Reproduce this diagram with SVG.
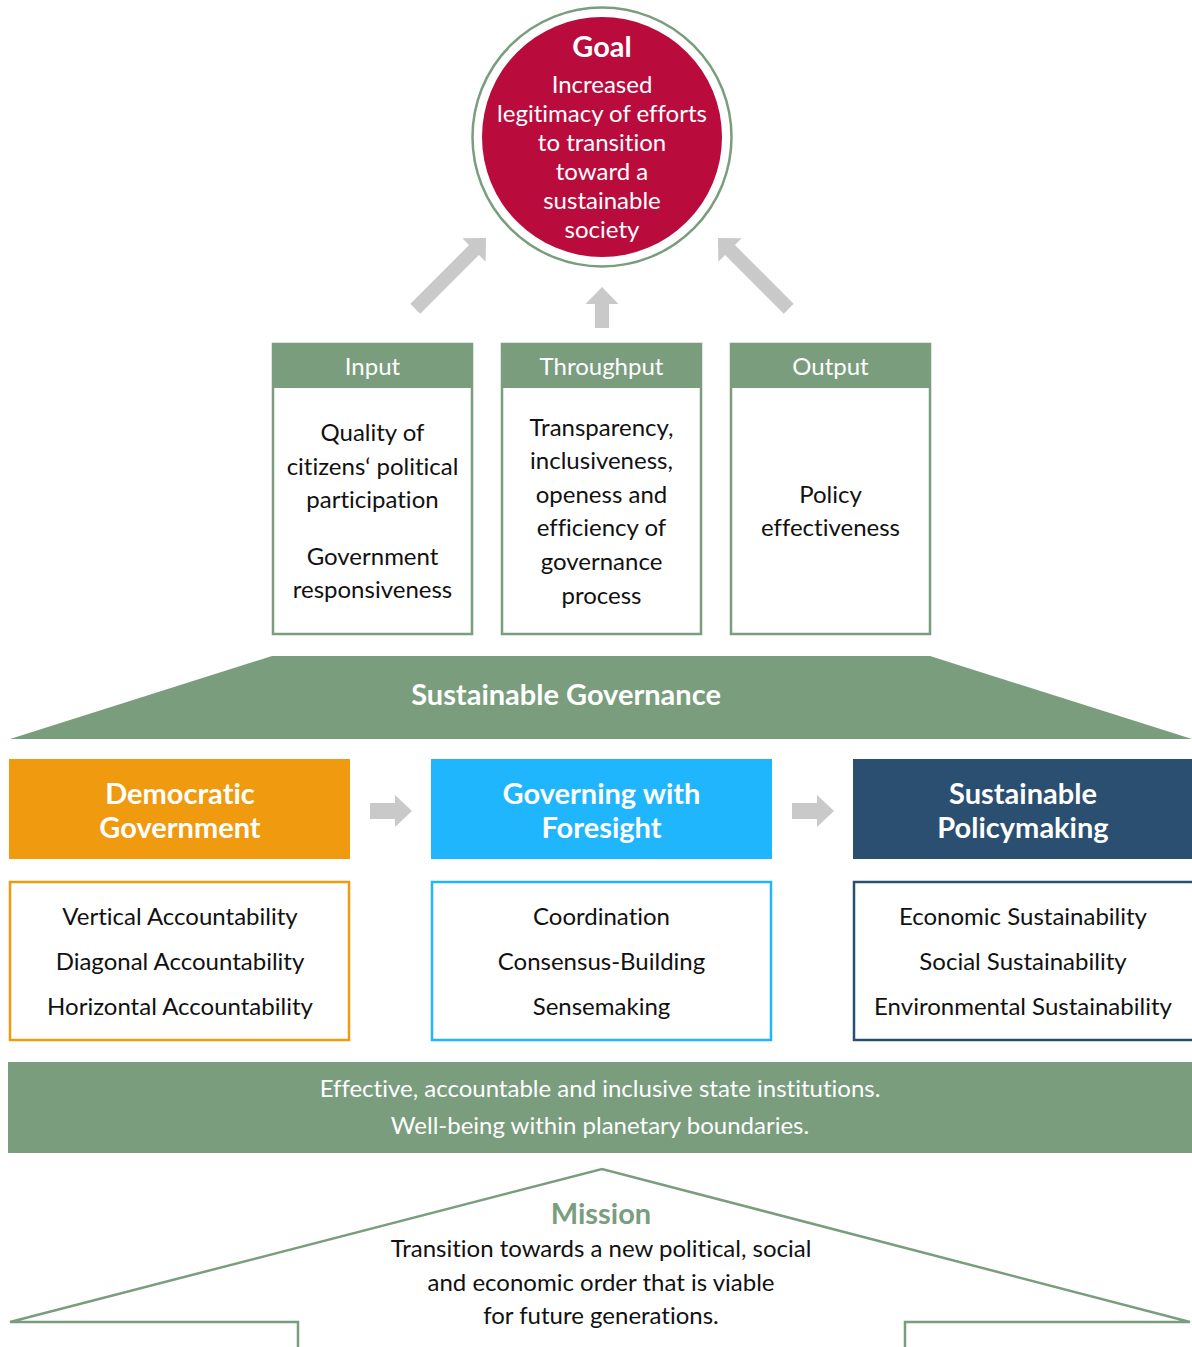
<svg xmlns="http://www.w3.org/2000/svg" width="1192" height="1347" viewBox="0 0 1192 1347">
<style>
text{font-family:Lato,"Open Sans","Liberation Sans",sans-serif;text-anchor:middle;font-variant-ligatures:none}
.b{fill:#111;font-size:24px}
.hd{fill:#fff;font-size:24px}
.gt{fill:#fff;font-size:24px}
.big{fill:#fff;font-size:29px;font-weight:bold}
.arrow{fill:#c8c9c8}
.gbox{fill:#fff;stroke:#7a9d7e;stroke-width:2.5}
</style>
<defs>
<path id="arr" d="M0,0 L16.5,17 L7,17 L7,100 L-7,100 L-7,17 L-16.5,17 Z"/>
<path id="harr" d="M0,-8 L25,-8 L25,-16 L42,0 L25,16 L25,8 L0,8 Z"/>
</defs>

<g id="goal">
<circle cx="602" cy="137" r="129.5" fill="#fff" stroke="#7a9d7e" stroke-width="2.5"/>
<circle cx="602" cy="137" r="120" fill="#ba0b3d"/>
<text x="602" y="57" class="big">Goal</text>
<text x="602" y="93" class="gt">Increased</text>
<text x="602" y="122" class="gt">legitimacy of efforts</text>
<text x="602" y="151" class="gt">to transition</text>
<text x="602" y="180" class="gt">toward a</text>
<text x="602" y="209" class="gt">sustainable</text>
<text x="602" y="238" class="gt">society</text>
</g>

<g id="connectors">
<use href="#arr" class="arrow" transform="translate(486,238) rotate(45)"/>
<path class="arrow" d="M602,287 L618.5,304 L609,304 L609,328 L595,328 L595,304 L585.5,304 Z"/>
<use href="#arr" class="arrow" transform="translate(718,238) rotate(-45)"/>
<use href="#harr" class="arrow" transform="translate(370,811)"/>
<use href="#harr" class="arrow" transform="translate(792,811)"/>
</g>

<g id="input">
<rect x="273" y="344" width="199" height="290" class="gbox"/>
<rect x="272" y="343" width="201" height="45" fill="#7a9d7e"/>
<text x="372.5" y="375" class="hd">Input</text>
<text x="372.5" y="441" class="b">Quality of</text>
<text x="372.5" y="475" class="b">citizens‘ political</text>
<text x="372.5" y="508" class="b">participation</text>
<text x="372.5" y="565" class="b">Government</text>
<text x="372.5" y="598" class="b">responsiveness</text>
</g>

<g id="throughput">
<rect x="502" y="344" width="199" height="290" class="gbox"/>
<rect x="501" y="343" width="201" height="45" fill="#7a9d7e"/>
<text x="601.5" y="375" class="hd">Throughput</text>
<text x="601.5" y="436" class="b">Transparency,</text>
<text x="601.5" y="469" class="b">inclusiveness,</text>
<text x="601.5" y="503" class="b">openess and</text>
<text x="601.5" y="536" class="b">efficiency of</text>
<text x="601.5" y="570" class="b">governance</text>
<text x="601.5" y="604" class="b">process</text>
</g>

<g id="output">
<rect x="731" y="344" width="199" height="290" class="gbox"/>
<rect x="730" y="343" width="201" height="45" fill="#7a9d7e"/>
<text x="830.5" y="375" class="hd">Output</text>
<text x="830.5" y="503" class="b">Policy</text>
<text x="830.5" y="536" class="b">effectiveness</text>
</g>

<g id="sustainable-governance">
<polygon points="272,656 930,656 1192,739 10,739" fill="#7a9d7e"/>
<text x="566" y="705" fill="#fff" font-size="29" font-weight="bold">Sustainable Governance</text>
</g>

<g id="democratic-government">
<rect x="9" y="759" width="341" height="100" fill="#f09a0f"/>
<text x="180" y="804" class="big">Democratic</text>
<text x="180" y="838" class="big">Government</text>
</g>

<g id="governing-foresight">
<rect x="431" y="759" width="341" height="100" fill="#20b6fd"/>
<text x="601.5" y="804" class="big">Governing with</text>
<text x="601.5" y="838" class="big">Foresight</text>
</g>

<g id="sustainable-policymaking">
<rect x="853" y="759" width="339" height="100" fill="#2a4f71"/>
<text x="1023" y="804" class="big">Sustainable</text>
<text x="1023" y="838" class="big">Policymaking</text>
</g>

<g id="democratic-items">
<rect x="10" y="882" width="339" height="158" fill="#fff" stroke="#f09a0f" stroke-width="2.5"/>
<text x="180" y="925" class="b">Vertical Accountability</text>
<text x="180" y="970" class="b">Diagonal Accountability</text>
<text x="180" y="1015" class="b">Horizontal Accountability</text>
</g>

<g id="foresight-items">
<rect x="432" y="882" width="339" height="158" fill="#fff" stroke="#20b6fd" stroke-width="2.5"/>
<text x="601.5" y="925" class="b">Coordination</text>
<text x="601.5" y="970" class="b">Consensus-Building</text>
<text x="601.5" y="1015" class="b">Sensemaking</text>
</g>

<g id="policymaking-items">
<rect x="854" y="882" width="345" height="158" fill="#fff" stroke="#2a4f71" stroke-width="2.5"/>
<text x="1023" y="925" class="b">Economic Sustainability</text>
<text x="1023" y="970" class="b">Social Sustainability</text>
<text x="1023" y="1015" class="b">Environmental Sustainability</text>
</g>

<g id="institutions-band">
<rect x="8" y="1062" width="1184" height="91" fill="#7a9d7e"/>
<text x="600" y="1097" class="gt">Effective, accountable and inclusive state institutions.</text>
<text x="600" y="1134" class="gt">Well-being within planetary boundaries.</text>
</g>

<g id="mission">
<path d="M298,1347 V1322 H10 L602,1169 L1190,1322 H905 V1347" fill="none" stroke="#7a9d7e" stroke-width="2.5"/>
<text x="601" y="1224" fill="#7a9d7e" font-size="29" font-weight="bold">Mission</text>
<text x="601" y="1257" class="b">Transition towards a new political, social</text>
<text x="601" y="1291" class="b">and economic order that is viable</text>
<text x="601" y="1324" class="b">for future generations.</text>
</g>
</svg>
